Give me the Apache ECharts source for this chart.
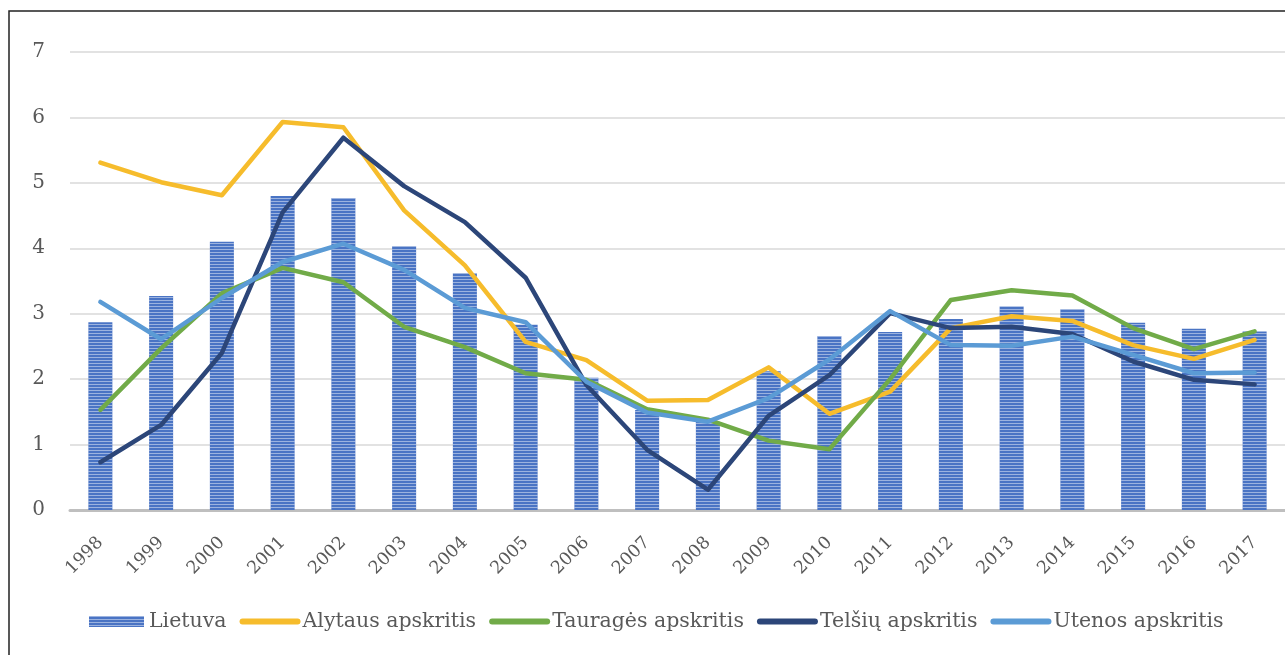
<!DOCTYPE html>
<html><head><meta charset="utf-8">
<script src="https://cdn.jsdelivr.net/npm/echarts@6/dist/echarts.min.js"></script>
<style>html,body{margin:0;padding:0;background:#fff}#c{width:1285px;height:655px}</style>
</head><body><div id="c"></div>
<script>
const years = ['1998','1999','2000','2001','2002','2003','2004','2005','2006','2007','2008','2009','2010','2011','2012','2013','2014','2015','2016','2017'];
const lietuva = [2.87,3.27,4.10,4.80,4.77,4.03,3.62,2.83,2.02,1.53,1.35,2.12,2.66,2.72,2.92,3.11,3.07,2.86,2.77,2.73];
const alytaus = [5.31,5.01,4.81,5.93,5.85,4.58,3.74,2.57,2.29,1.67,1.68,2.18,1.47,1.81,2.78,2.96,2.89,2.52,2.31,2.60];
const taurages = [1.53,2.47,3.31,3.70,3.48,2.80,2.49,2.09,1.99,1.54,1.38,1.06,0.93,2.00,3.21,3.36,3.28,2.78,2.46,2.73];
const telsiu = [0.73,1.30,2.40,4.55,5.69,4.95,4.40,3.55,1.91,0.92,0.31,1.44,2.06,3.01,2.78,2.80,2.69,2.27,1.99,1.92];
const utenos = [3.18,2.61,3.24,3.79,4.07,3.67,3.09,2.87,1.96,1.49,1.35,1.71,2.30,3.04,2.52,2.51,2.65,2.37,2.09,2.10];
const yTicks = [0,1,2,3,4,5,6,7];

const FONT = '"DejaVu Serif", "Liberation Serif", serif';
const TXT = '#595959';
const chart = echarts.init(document.getElementById('c'), null, {renderer:'canvas'});
function line(name, data, color){
  return {name, type:'line', data, showSymbol:false, symbol:'none', z:3,
    lineStyle:{color, width:4.5, cap:'round', join:'round'}, itemStyle:{color}};
}
const legLine = {width:6, cap:'round'};
const noSym = {opacity:0};
chart.setOption({
  animation:false,
  textStyle:{fontFamily:FONT},
  graphic:[{type:'polyline', shape:{points:[[9,655],[9,11],[1285,11]]}, style:{stroke:'#222', lineWidth:1.5, fill:null}, z:10}],
  grid:{left:70, right:0, top:52, bottom:145, containLabel:false},
  legend:{
    left:84, top:606, itemWidth:55, itemHeight:11, itemGap:13,
    textStyle:{fontFamily:FONT, fontSize:20.5, color:TXT},
    data:[
      {name:'Lietuva', icon:'rect'},
      {name:'Alytaus apskritis', lineStyle:legLine, itemStyle:noSym},
      {name:'Tauragės apskritis', lineStyle:legLine, itemStyle:noSym},
      {name:'Telšių apskritis', lineStyle:legLine, itemStyle:noSym},
      {name:'Utenos apskritis', lineStyle:legLine, itemStyle:noSym}
    ]
  },
  xAxis:{type:'category', data:years,
    axisLine:{lineStyle:{color:'#BFBFBF', width:3}},
    axisTick:{show:false},
    axisLabel:{rotate:45, fontFamily:FONT, fontSize:17.5, color:TXT, margin:30, interval:0}
  },
  yAxis:{type:'value', min:0, max:7, interval:1,
    axisLine:{show:false}, axisTick:{show:false},
    axisLabel:{fontFamily:FONT, fontSize:20, color:TXT, margin:25,
      formatter:v=> yTicks.includes(v) ? String(v) : ''},
    splitLine:{lineStyle:{color:'#D9D9D9', width:1.5}}
  },
  series:[
    {name:'Lietuva', type:'bar', data:lietuva, barWidth:24, z:2,
      itemStyle:{color:'#4A74C4',
        decal:{symbol:'rect', symbolSize:1, color:'rgba(255,255,255,0.45)', dashArrayX:[1,0], dashArrayY:[1,2]}}},
    line('Alytaus apskritis', alytaus, '#F6BC2C'),
    line('Tauragės apskritis', taurages, '#71AB48'),
    line('Telšių apskritis', telsiu, '#2C4679'),
    line('Utenos apskritis', utenos, '#5B9BD5')
  ]
});
</script></body></html>
